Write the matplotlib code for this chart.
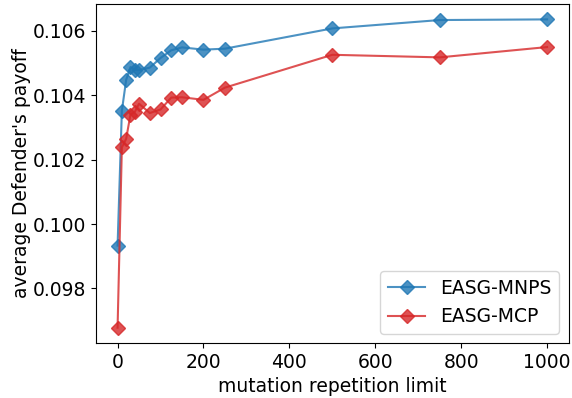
import matplotlib
matplotlib.use("Agg")
import matplotlib.pyplot as plt

x = [0, 10, 20, 30, 40, 50, 75, 100, 125, 150, 200, 250, 500, 750, 1000]
mnps = [0.09933, 0.10352, 0.10448, 0.10488, 0.10479, 0.10479, 0.10486, 0.10516,
        0.10540, 0.10549, 0.10542, 0.10545, 0.10608, 0.10634, 0.10636]
mcp = [0.09678, 0.10238, 0.10265, 0.10340, 0.10348, 0.10374, 0.10345, 0.10356,
       0.10393, 0.10394, 0.10386, 0.10424, 0.10526, 0.10518, 0.10550]

plt.rcParams['font.family'] = ['DejaVu Sans']
fig, ax = plt.subplots(figsize=(5.72, 3.98), dpi=100)
ax.plot(x, mnps, marker='D', color='tab:blue', alpha=0.8, markersize=7, linewidth=1.5, label='EASG-MNPS')
ax.plot(x, mcp, marker='D', color='tab:red', alpha=0.8, markersize=7, linewidth=1.5, label='EASG-MCP')
fs = 13.5
ax.set_xlabel('mutation repetition limit', fontsize=fs)
ax.set_ylabel("average Defender's payoff", fontsize=fs, labelpad=1)
ax.tick_params(labelsize=fs)
ax.set_yticks([0.098, 0.100, 0.102, 0.104, 0.106])
ax.legend(loc='lower right', fontsize=fs)
fig.subplots_adjust(left=0.168, right=0.994, top=0.99, bottom=0.138)
fig.savefig('out.png', dpi=100)
